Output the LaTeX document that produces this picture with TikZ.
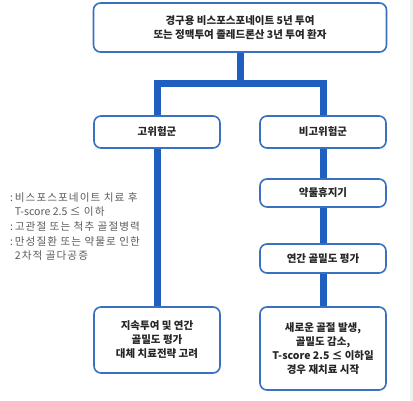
\documentclass[tikz,border=0pt]{standalone}
\usepackage{fontspec}
\usepackage{xcolor}
\usepackage{tikz}
\newfontfamily\kr{Noto Sans CJK KR}
\newfontfamily\krnote[LetterSpace=10]{Noto Sans CJK KR}
\definecolor{flowblue}{HTML}{1F5FBF}
\definecolor{boxblue}{HTML}{3A70C0}
\definecolor{notegray}{HTML}{5A5A5A}

\begin{document}
\begin{tikzpicture}[x=1pt, y=-1pt,
    stepbox/.style={draw=boxblue, line width=1.6pt, rounded corners=7pt, fill=white,
        minimum width=126pt, align=center, text=black!85,
        font=\kr\bfseries\fontsize{10.5}{14}\selectfont},
    trunk/.style={draw=flowblue, line width=7pt}]
    \useasboundingbox (0,0) rectangle (413,401);
    \fill[black!6] (410,0) rectangle (413,401);
    % boxes
    \node[stepbox, minimum width=293pt, minimum height=49pt] (start) at (240,27.5)
        {경구용 비스포스포네이트 5년 투여\\또는 정맥투여 졸레드론산 3년 투여 환자};
    \node[stepbox, minimum height=32pt] (high) at (157,132) {고위험군};
    \node[stepbox, minimum height=32pt] (low) at (323,132) {비고위험군};
    \node[stepbox, minimum height=28pt] (holiday) at (323,193) {약물휴지기};
    \node[stepbox, minimum height=29pt] (bmd) at (323,258.5) {연간 골밀도 평가};
    \node[stepbox, minimum height=66pt] (keep) at (157,340)
        {지속투여 및 연간\\골밀도 평가\\대체 치료전략 고려};
    \node[stepbox, minimum height=83pt] (restart) at (323,348.5)
        {새로운 골절 발생,\\골밀도 감소,\\T-score 2.5 ≤ 이하일\\경우 재치료 시작};
    % connectors
    \coordinate (fork) at (240,83.5);
    \draw[trunk] (start.south) -- (fork);
    \draw[trunk] (high.north) |- (fork) -| (low.north);
    \draw[trunk] (high.south) -- (keep.north);
    \draw[trunk] (low.south) -- (holiday.north);
    \draw[trunk] (holiday.south) -- (bmd.north);
    \draw[trunk] (bmd.south) -- (restart.north);
    % high-risk criteria
    \node[anchor=north west, align=left, text=notegray, inner sep=0pt,
        font=\krnote\fontsize{10.6}{14.7}\selectfont] (notes) at (10,192)
        {:\,비스포스포네이트 치료 후\\
         \phantom{:}\,{\kr T-score 2.5 ≤} 이하\\
         :\,고관절 또는 척추 골절병력\\
         :\,만성질환 또는 약물로 인한\\
         \phantom{:}\,2차적 골다공증};
\end{tikzpicture}
\end{document}
